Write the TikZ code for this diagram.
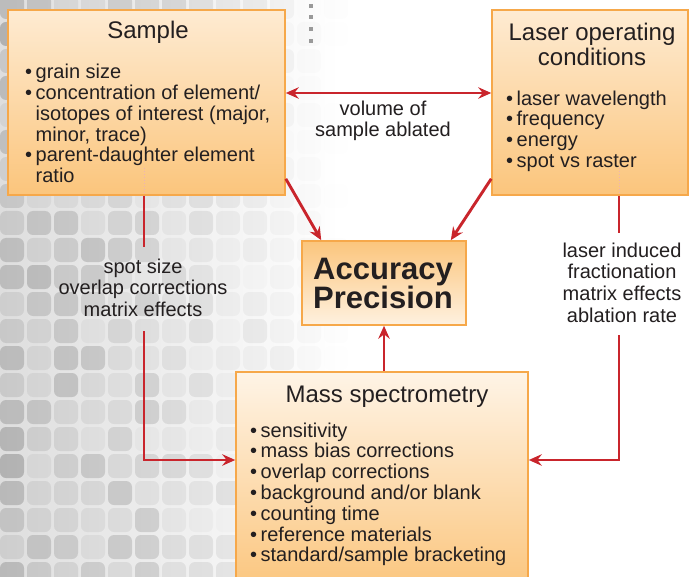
\documentclass[tikz,border=0pt]{standalone}
\usepackage{fontspec}
\setmainfont{Liberation Sans}
\usetikzlibrary{arrows.meta,calc}
\definecolor{ared}{HTML}{C9252C}
\definecolor{bord}{HTML}{F6A84A}
\definecolor{txt}{HTML}{231F20}
\definecolor{olight}{HTML}{FEEBD2}
\definecolor{odark}{HTML}{FBC57C}
\newcommand\bul{\makebox[10.5pt][l]{\textbullet}}
\newcommand\ind{\hspace*{10.5pt}}
\tikzset{
  box/.style={draw=bord, line width=1.6pt, inner sep=0pt},
  downfade/.style={top color=olight, bottom color=odark},
  upfade/.style={top color=odark, bottom color=olight!70!white},
  title/.style={font=\fontsize{24}{25}\selectfont, text=txt, inner sep=0pt},
  body/.style={font=\fontsize{20}{20.8}\selectfont, text=txt, align=left, inner sep=0pt},
  lbl/.style={font=\fontsize{20}{21.7}\selectfont, text=txt, align=center, inner sep=0pt},
  tip/.tip={Stealth[length=13pt,width=11.5pt,inset=4.5pt]},
  arr/.style={draw=ared, line width=2.9pt, -tip},
  arrb/.style={draw=ared, line width=2.9pt, tip-tip},
  ghost/.style={draw=ared!35, line width=0.8pt, dash pattern=on 1.5pt off 1.5pt}
}
\begin{document}
\begin{tikzpicture}[x=1pt,y=-1pt]
\useasboundingbox (0,0) rectangle (690,577);
\fill[white] (0,0) rectangle (690,577);
% background texture
\shade[left color=black!13, right color=white] (0,0) rectangle (340,577);
\pgfmathsetseed{11}
\foreach \x in {0,27,...,324} {
  \foreach \y in {-5,22,...,577} {
    \pgfmathsetmacro\op{max(0,1-\x/335)*(0.04+0.17*rnd)}
    \fill[black, opacity=\op, rounded corners=6pt] (\x,\y) rectangle ++(24,24);
  }
}
% dots at top
\foreach \yy in {6,17,29,41} {
  \fill[black!40] (309,\yy-2) rectangle ++(4,4);
}
% boxes
\node[box, downfade, minimum width=277pt, minimum height=185pt] (sample) at (146.5,102.5) {};
\node[box, downfade, minimum width=196pt, minimum height=185pt] (laser) at (590,102.5) {};
\node[box, upfade, minimum width=164pt, minimum height=84pt] (acc) at (384,283) {};
\node[box, top color=olight!55!white, bottom color=odark, minimum width=292pt, minimum height=220pt] (mass) at (382,482) {};
% ghost marks inside boxes
\draw[ghost] (144,168) -- (144,195);
\draw[ghost] (619,168) -- (619,195);
% texts
\node[title, anchor=base] (tsample) at (148,39) {Sample};
\node[title, anchor=north, align=center] (tlaser) at (592,22.5) {Laser operating\\conditions};
\node[title, anchor=base] (tmass) at (387,402) {Mass spectrometry};
\node[font=\fontsize{31}{29}\selectfont\bfseries, text=txt, align=center, inner sep=0pt, anchor=north] (tacc) at (383,257.5) {Accuracy\\Precision};
\node[body, anchor=north west] (lsample) at (25,64) {\bul grain size\\
\bul concentration of element/\\
\ind isotopes of interest (major,\\
\ind minor, trace)\\
\bul parent-daughter element\\
\ind ratio};
\node[body, anchor=north west] (llaser) at (506,90.5) {\bul laser wavelength\\
\bul frequency\\
\bul energy\\
\bul spot vs raster};
\node[body, anchor=north west] (lmass) at (250,422.5) {\bul sensitivity\\
\bul mass bias corrections\\
\bul overlap corrections\\
\bul background and/or blank\\
\bul counting time\\
\bul reference materials\\
\bul standard/sample bracketing};
% connector labels
\node[lbl, anchor=north] (vol) at (383,100.5) {volume of\\sample ablated};
\node[lbl, anchor=north] (lbl1) at (143,258.5) {spot size\\overlap corrections\\matrix effects};
\node[lbl, anchor=north] (lbl2) at (622,242.5) {laser induced\\fractionation\\matrix effects\\ablation rate};
% coordinates for gaps
\coordinate (h1) at (0,93);
\coordinate (g1a) at (144,247);
\coordinate (g1b) at (144,331);
\coordinate (h2) at (0,460);
\coordinate (g2a) at (619,233);
\coordinate (g2b) at (619,335);
% connectors
\draw[arrb] (sample.east |- h1) -- (laser.west |- h1);
\draw[arr] ([yshift=17pt]sample.south east) -- ([xshift=20pt]acc.north west);
\draw[arr] ([yshift=17pt]laser.south west) -- ([xshift=-16pt]acc.north east);
\draw[arr] (mass.north -| acc.south) -- (acc.south);
\draw[draw=ared, line width=2.9pt] (sample.south -| g1a) -- (g1a);
\draw[arr] (g1b) |- (mass.west |- h2);
\draw[draw=ared, line width=2.9pt] (laser.south -| g2a) -- (g2a);
\draw[arr] (g2b) |- (mass.east |- h2);
\end{tikzpicture}
\end{document}
